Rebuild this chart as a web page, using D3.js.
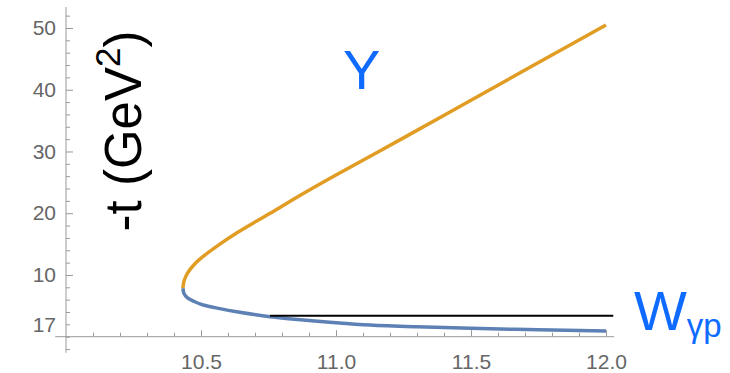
<!DOCTYPE html>
<meta charset="utf-8">
<style>
body { margin: 0; background: #fff; }
svg { font-family: "Liberation Sans", Arial, sans-serif; }
.tick text { fill: #666; font-size: 21px; }
.tick line { stroke: #999; }
</style>
<body>
<svg width="730" height="373"></svg>
<script src="https://d3js.org/d3.v7.min.js"></script>
<script>

// upper branch (-t max), W in GeV vs -t in GeV^2
var upperW = [10.433, 10.437, 10.45, 10.475, 10.508, 10.57, 10.632, 10.756, 10.879, 11.0, 11.25, 11.5, 11.75, 12.0];
var upperT = [7.85, 9.0, 10.3, 11.7, 13.0, 15.0, 16.8, 20.0, 23.2, 26.2, 32.2, 38.3, 44.4, 50.5];

// lower branch (-t min)
var lowerW = [10.433, 10.437, 10.45, 10.475, 10.508, 10.57, 10.632, 10.756, 10.879, 11.0, 11.126, 11.3, 11.5, 11.75, 12.0];
var lowerT = [7.85, 7.0, 6.3, 5.7, 5.14, 4.55, 4.05, 3.24, 2.71, 2.27, 1.9, 1.6, 1.35, 1.12, 0.92];

// horizontal reference line
var refW = [10.756, 12.027];
var refT = 3.4;

var xMajor = [10.5, 11.0, 11.5, 12.0];
var yMajor = [10, 20, 30, 40, 50];
var yLabelTicks = [2, 10, 20, 30, 40, 50];
var yLabelText = ["17", "10", "20", "30", "40", "50"];

var svg = d3.select("svg");

var x = d3.scaleLinear().domain([10, 12]).range([66, 606]);
var y = d3.scaleLinear().domain([0, 50]).range([336.7, 28]);

var xMinor = d3.range(101, 121).map(function(d) { return d / 10; })
    .filter(function(d) { return xMajor.indexOf(d) < 0; });
var yMinor = d3.range(-1, 27).map(function(d) { return d * 2; })
    .filter(function(d) { return yMajor.indexOf(d) < 0; });

// x axis
svg.append("line")
    .attr("x1", x(9.96)).attr("x2", x(12.03))
    .attr("y1", y(0)).attr("y2", y(0))
    .attr("stroke", "#999");

svg.append("g")
    .attr("transform", "translate(0," + y(0) + ")")
    .call(d3.axisBottom(x).tickValues(xMinor).tickSize(-4).tickFormat(""))
    .call(function(g) { g.select(".domain").remove(); });

svg.append("g")
    .attr("transform", "translate(0," + y(0) + ")")
    .call(d3.axisBottom(x).tickValues(xMajor).tickSize(-6.5).tickPadding(17)
      .tickFormat(d3.format(".1f")))
    .call(function(g) { g.select(".domain").remove(); });

// y axis
svg.append("line")
    .attr("x1", x(10)).attr("x2", x(10))
    .attr("y1", y(-2.6)).attr("y2", y(53.4))
    .attr("stroke", "#999");

svg.append("g")
    .attr("transform", "translate(" + x(10) + ",0)")
    .call(d3.axisLeft(y).tickValues(yMinor).tickSize(-4).tickFormat(""))
    .call(function(g) { g.select(".domain").remove(); });

svg.append("g")
    .attr("transform", "translate(" + x(10) + ",0)")
    .call(d3.axisLeft(y).tickValues(yMajor).tickSize(-7).tickFormat(""))
    .call(function(g) { g.select(".domain").remove(); });

svg.append("g")
    .attr("transform", "translate(" + x(10) + ",0)")
    .call(d3.axisLeft(y).tickValues(yLabelTicks).tickSize(0).tickPadding(10)
      .tickFormat(function(d, i) { return yLabelText[i]; }))
    .call(function(g) { g.select(".domain").remove(); });

// curves
var line = d3.line()
    .x(function(d) { return x(d[0]); })
    .y(function(d) { return y(d[1]); })
    .curve(d3.curveCatmullRom);

svg.append("path")
    .datum(upperW.map(function(w, i) { return [w, upperT[i]]; }))
    .attr("fill", "none")
    .attr("stroke", "#E19C24")
    .attr("stroke-width", 3.5)
    .attr("d", line);

svg.append("path")
    .datum(lowerW.map(function(w, i) { return [w, lowerT[i]]; }))
    .attr("fill", "none")
    .attr("stroke", "#5E81B5")
    .attr("stroke-width", 3.5)
    .attr("d", line);

svg.append("line")
    .attr("x1", x(refW[0])).attr("x2", x(refW[1]))
    .attr("y1", y(refT)).attr("y2", y(refT))
    .attr("stroke", "#000")
    .attr("stroke-width", 2);

// labels
var ylab = svg.append("text")
    .attr("transform", "translate(141,131) rotate(-90)")
    .attr("text-anchor", "middle")
    .attr("font-size", 51)
    .attr("fill", "#000");
ylab.append("tspan").text("-t (GeV");
ylab.append("tspan").attr("font-size", 35).attr("dy", -21).text("2");
ylab.append("tspan").attr("dy", 21).text(")");

svg.append("text")
    .attr("x", 343).attr("y", 89)
    .attr("font-size", 56)
    .attr("fill", "#0F6BFF")
    .text("Υ");

var wlab = svg.append("text")
    .attr("x", 634).attr("y", 330)
    .attr("font-size", 56)
    .attr("fill", "#0F6BFF");
wlab.append("tspan").text("W");
wlab.append("tspan").attr("font-size", 33).attr("dy", 7).text("γp");

</script>
</body>
